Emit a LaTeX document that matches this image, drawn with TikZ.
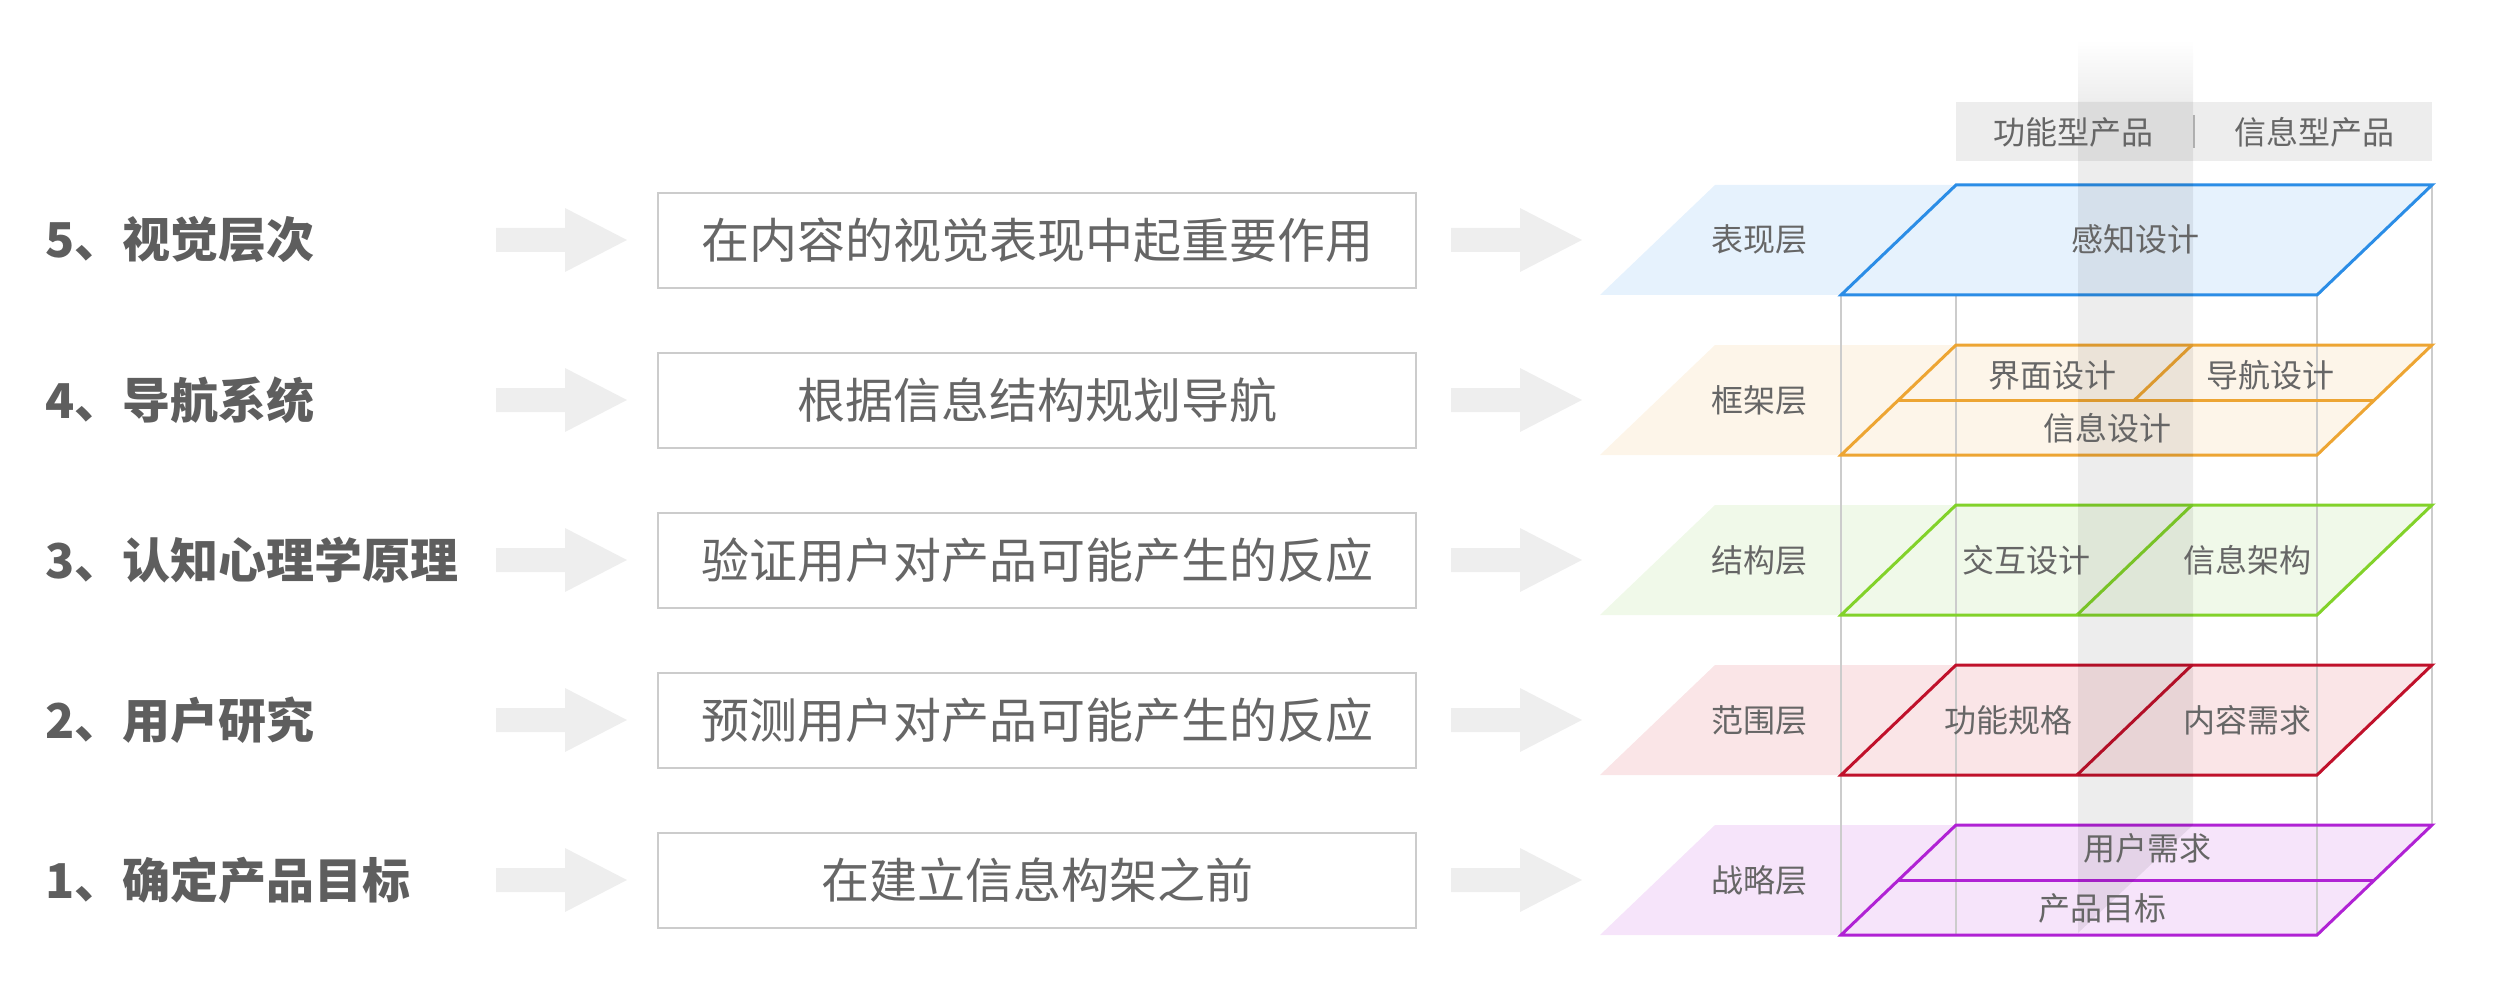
\documentclass[tikz,border=0pt]{standalone}
\usepackage{fontspec}
\setmainfont{Noto Sans CJK SC}
\definecolor{txt}{HTML}{666666}
\definecolor{ttl}{HTML}{5E5E5E}
\definecolor{boxline}{HTML}{CCCCCC}
\definecolor{arrowgray}{HTML}{EEEEEE}
\definecolor{vline}{HTML}{CCCCCC}
\definecolor{hdr}{HTML}{EDEDED}
\definecolor{sepgray}{HTML}{B0B0B0}
\definecolor{fillblue}{HTML}{E6F2FD}   \definecolor{strokeblue}{HTML}{2B8DE6}
\definecolor{fillorange}{HTML}{FDF5E9} \definecolor{strokeorange}{HTML}{EDA533}
\definecolor{fillgreen}{HTML}{F0F9E9}  \definecolor{strokegreen}{HTML}{82D22A}
\definecolor{fillred}{HTML}{FAE5E7}    \definecolor{strokered}{HTML}{C0112B}
\definecolor{fillpurple}{HTML}{F6E4FA} \definecolor{strokepurple}{HTML}{B022D4}
\tikzset{
  titletext/.style={anchor=west, inner sep=0pt, text=ttl,
    font=\fontsize{48}{48}\selectfont\bfseries, text height=42pt, text depth=6pt},
  itembox/.style={draw=boxline, line width=2.5pt, minimum width=758pt,
    minimum height=95pt, inner sep=0pt, text=txt,
    font=\fontsize{48}{48}\selectfont, text height=42pt, text depth=6pt},
  layertext/.style={inner sep=0pt, text=txt,
    font=\fontsize{32}{32}\selectfont, text height=28pt, text depth=4pt},
  vl/.style={draw=vline, line width=2pt},
  layerline/.style={line width=3pt, line join=miter},
  blockarrow/.pic={\fill[arrowgray] (0,-12) -- (69,-12) -- (69,-32) -- (131,0)
      -- (69,32) -- (69,12) -- (0,12) -- cycle;}
}
\begin{document}
\begin{tikzpicture}[x=1pt,y=-1pt]
\useasboundingbox (0,0) rectangle (2506,1000);

% ---------- left column ----------
\node[titletext] (t5) at (45,240) {5、视觉层次};
\node[titletext] (t4) at (45,400) {4、导航系统};
\node[titletext] (t3) at (45,560) {3、认知心理学原理};
\node[titletext] (t2) at (45,720) {2、用户研究};
\node[titletext] (t1) at (45,880) {1、确定产品目标};

\foreach \yy in {240,400,560,720,880}{
  \pic at (496,\yy) {blockarrow};
  \pic at (1451,\yy) {blockarrow};
}

\node[itembox] (b5) at (1037,240.5) {在内容的视觉表现中起重要作用};
\node[itembox] (b4) at (1037,400.5) {根据信息结构规划导航};
\node[itembox] (b3) at (1037,560.5) {验证用户对产品可能产生的反应};
\node[itembox] (b2) at (1037,720.5) {预测用户对产品可能产生的反应};
\node[itembox] (b1) at (1037,880.5) {在建立信息构架之前};

% ---------- layer fills ----------
\foreach \T/\c in {185/blue,345/orange,505/green,665/red,825/purple}{
  \fill[fill\c] (1600,\T+110) -- (2317,\T+110) -- (2432,\T) -- (1715,\T) -- cycle;
}

% ---------- vertical box edges ----------
\draw[vl] (1841,296) -- (1841,935);
\draw[vl] (1956,296) -- (1956,935);
\draw[vl] (2317,296) -- (2317,935);
\draw[vl] (2432,185) -- (2432,825);

% ---------- layer outlines ----------
\foreach \T/\c in {185/blue,345/orange,505/green,665/red,825/purple}{
  \draw[layerline, draw=stroke\c] (1841,\T+110) -- (2317,\T+110) -- (2432,\T) -- (1956,\T) -- cycle;
}
\draw[layerline, draw=strokeorange] (1898.5,400) -- (2374.5,400);
\draw[layerline, draw=strokeorange] (2192,345) -- (2134.5,400);
\draw[layerline, draw=strokegreen] (2192,505) -- (2077,615);
\draw[layerline, draw=strokered] (2192,665) -- (2077,775);
\draw[layerline, draw=strokepurple] (1898.5,880) -- (2374.5,880);

% ---------- header ----------
\fill[hdr] (1956,102) rectangle (2432,161);
\draw[draw=sepgray, line width=1.5pt] (2194,115) -- (2194,148);

% ---------- gray band ----------
\shade[top color=white, bottom color=black!7] (2078,40) rectangle (2193,102);
\fill[black, opacity=0.07] (2078,102) -- (2193,102) -- (2193,825) -- (2078,933) -- cycle;

% ---------- texts ----------
\node[layertext] (h1) at (2073,133) {功能型产品};
\node[layertext] (h2) at (2314,133) {信息型产品};

\node[layertext] (l5) at (1759,240) {表现层};
\node[layertext] (l4) at (1759,400) {框架层};
\node[layertext] (l3) at (1759,560) {结构层};
\node[layertext] (l2) at (1759,720) {范围层};
\node[layertext] (l1) at (1759,880) {战略层};

\node[layertext] (p5) at (2135,240) {感知设计};
\node[layertext] (p4a) at (2052,375) {界面设计};
\node[layertext] (p4b) at (2270,375) {导航设计};
\node[layertext] (p4c) at (2107,428) {信息设计};
\node[layertext] (p3a) at (2026,560) {交互设计};
\node[layertext] (p3b) at (2247,560) {信息架构};
\node[layertext] (p2a) at (2008,720) {功能规格};
\node[layertext] (p2b) at (2247,720) {内容需求};
\node[layertext] (p1a) at (2147,848) {用户需求};
\node[layertext] (p1b) at (2102,908) {产品目标};
\end{tikzpicture}
\end{document}
